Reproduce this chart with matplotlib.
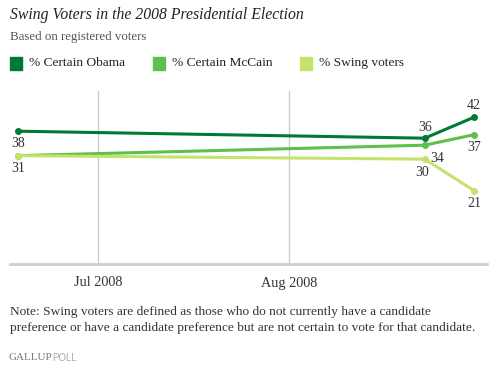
import datetime as dt

import matplotlib
matplotlib.use("Agg")
import matplotlib.dates as mdates
import matplotlib.pyplot as plt
from matplotlib.patches import Rectangle

# --- data ---
dates = [dt.date(2008, 6, 18), dt.date(2008, 8, 23), dt.date(2008, 8, 31)]
obama = [38, 36, 42]
mccain = [31, 34, 37]
swing = [31, 30, 21]
series_names = ["% Certain Obama", "% Certain McCain", "% Swing voters"]
colors = ["#007a33", "#5fbf4b", "#c5e36c"]
tick_dates = [dt.date(2008, 7, 1), dt.date(2008, 8, 1)]
tick_labels = ["Jul 2008", "Aug 2008"]

# label offsets in pixels (dx, dy) for each point of each series
label_offsets = [
    [(0, -12), (0, 11), (0, 12)],
    [(0, -13), (12, -13), (0, -13)],
    [None, (-3, -13), (0, -13)],
]

W, H = 494, 374
fig = plt.figure(figsize=(W / 100, H / 100), dpi=100)
serif = ["Liberation Serif", "DejaVu Serif"]

ax = fig.add_axes([10 / W, 1 - 264 / H, 477 / W, 173 / H])
for vals, col, offs in zip([obama, mccain, swing], colors, label_offsets):
    ax.plot(dates, vals, color=col, lw=2.2, marker="o", ms=4, solid_capstyle="round")
    for d, v, off in zip(dates, vals, offs):
        if off is None:
            continue
        ax.annotate(str(v), (d, v), xytext=off, textcoords="offset pixels",
                    ha="center", va="center", fontsize=10, family=serif, color="#333333")

x0 = mdates.date2num(dt.date(2008, 7, 1))
ax.set_xlim(x0 - 14.3, x0 + 31 + 32.1)
ax.set_ylim(0, 49.5)
for td in tick_dates:
    ax.axvline(td, color="#cccccc", lw=1, zorder=0)
ax.set_xticks(tick_dates)
ax.set_xticklabels(tick_labels, family=serif, fontsize=10.3, color="#333333")
ax.tick_params(axis="x", length=0, pad=9)
ax.set_yticks([])
for s in ["top", "left", "right"]:
    ax.spines[s].set_visible(False)
ax.spines["bottom"].set_color("#d0cfc8")
ax.spines["bottom"].set_linewidth(2)

# --- header text ---
fig.text(10 / W, 1 - 15 / H, "Swing Voters in the 2008 Presidential Election",
         family=serif, style="italic", fontsize=11.3, va="center", color="#222222")
fig.text(10 / W, 1 - 37 / H, "Based on registered voters",
         family=serif, fontsize=9.3, va="center", color="#555555")
legend_x = [10, 153, 300]
for lx, name, col in zip(legend_x, series_names, colors):
    fig.patches.append(Rectangle((lx / W, 1 - 70 / H), 12 / W, 13 / H,
                                 transform=fig.transFigure, color=col))
    fig.text((lx + 19) / W, 1 - 63 / H, name, family=serif, fontsize=9.6,
             va="center", color="#222222")

# --- footer ---
fig.text(10 / W, 1 - 312 / H,
         "Note: Swing voters are defined as those who do not currently have a candidate",
         family=serif, fontsize=9.6, va="center", color="#333333")
fig.text(10 / W, 1 - 328 / H,
         "preference or have a candidate preference but are not certain to vote for that candidate.",
         family=serif, fontsize=9.6, va="center", color="#333333")
fig.text(8 / W, 1 - 358 / H, "GALLUP", family=serif, fontsize=8,
         va="center", color="#777777")
fig.text(52 / W, 1 - 358 / H, "POLL", family=["Liberation Sans", "DejaVu Sans"],
         fontsize=7, va="center", color="#aaaaaa")

fig.savefig("out.png", dpi=100, facecolor="white")
